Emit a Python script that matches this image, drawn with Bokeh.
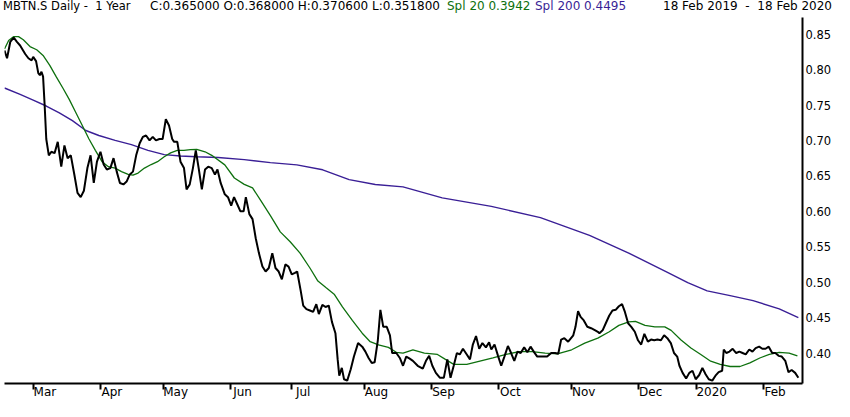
import pandas as pd
from bokeh.plotting import figure
from bokeh.models import Range1d, LinearAxis, FixedTicker, NumeralTickFormatter, Div
from bokeh.layouts import column
from bokeh.embed import file_html
from bokeh.resources import INLINE

# ---------------- data ----------------
holidays = ["2019-04-19", "2019-04-22", "2019-05-01", "2019-05-30", "2019-06-10",
            "2019-08-01", "2019-12-24", "2019-12-25", "2019-12-26", "2019-12-31",
            "2020-01-01", "2020-01-02"]
month_labels = ["Mar", "Apr", "May", "Jun", "Jul", "Aug", "Sep", "Oct", "Nov", "Dec", "2020", "Feb"]
y_ticks = [0.40, 0.45, 0.50, 0.55, 0.60, 0.65, 0.70, 0.75, 0.80, 0.85]

# trading-day index and closing price
price_day = [0.0, 0.8, 1.8, 2.9, 3.9, 4.9, 6.5, 7.5, 8.5, 9.0, 9.9, 10.6, 11.1, 11.6, 12.1, 12.6, 13.1, 13.9,
             14.7, 15.7, 16.7, 17.8, 18.8, 19.8, 20.8, 21.9, 22.9, 23.9, 24.9, 26.0, 27.0, 28.0, 29.0, 30.1,
             31.1, 32.1, 33.2, 34.2, 35.2, 36.2, 37.3, 38.3, 39.3, 40.3, 41.3, 42.4, 43.4, 44.4, 45.5, 46.5,
             47.5, 48.6, 49.6, 50.6, 51.6, 52.6, 53.2, 54.2, 55.2, 56.3, 57.1, 58.1, 59.1, 60.0, 60.9, 61.9,
             62.9, 63.9, 65.0,
             66.0, 66.8, 67.8, 69.1, 70.1, 71.1, 72.0, 73.0, 74.0, 75.0, 75.7, 76.8, 77.8, 78.8, 79.8, 80.9,
             81.9, 82.9, 84.0, 85.0, 86.0, 87.0, 88.1, 89.1, 90.1, 91.1, 91.8, 92.9, 93.7, 94.7, 95.8, 96.8,
             97.8, 98.6, 99.7, 100.7, 101.7, 102.7, 103.8, 104.5, 105.0, 105.8, 106.5, 107.5, 108.6, 109.6,
             110.9, 112.2, 113.2, 114.2, 115.2, 116.1, 117.1, 117.9, 118.8, 119.9, 120.9, 121.6,
             122.9, 124.0, 125.0, 126.0, 127.1, 128.1, 129.6, 131.2, 132.2, 133.2, 134.2, 135.3, 136.6, 137.8,
             138.9, 139.9, 140.9, 141.9, 142.8, 143.8, 145.0, 146.0, 146.9, 147.9, 148.9, 149.9, 151.0, 152.0,
             152.7, 153.7, 154.8, 155.8, 156.8, 157.9, 158.9, 159.9, 160.9, 161.9, 163.0, 164.0, 165.0, 166.0,
             167.1, 168.6, 170.2, 171.5, 172.7, 173.7, 174.6, 175.6, 176.8, 178.4, 179.1, 179.9, 180.7, 181.7,
             182.8, 184.0, 185.3, 186.1,
             186.6, 187.6, 188.6, 189.7, 190.7, 191.7, 192.7, 193.7, 194.6, 195.6, 196.6, 197.7, 198.7, 199.7,
             200.7, 201.8, 202.8, 203.8, 204.8, 205.9, 206.9, 207.9, 209.0, 210.0, 211.0, 211.7, 212.7, 213.8,
             214.8, 215.8, 216.8, 217.9, 218.9, 219.9, 220.9, 222.0, 223.0, 224.0, 225.1, 225.6, 226.4, 227.4,
             228.4, 229.5, 230.5, 231.5, 232.5, 233.6, 234.6, 235.6, 236.7, 237.7, 238.7, 239.7, 240.8, 241.8,
             242.8, 243.8, 244.9, 245.9, 246.9, 248.0, 249.0]
price_close = [0.827, 0.816, 0.839, 0.845, 0.839, 0.834, 0.822, 0.816, 0.813, 0.818, 0.812, 0.795, 0.792, 0.797,
               0.790, 0.749, 0.702, 0.679, 0.684, 0.682, 0.698, 0.663, 0.693, 0.675, 0.679, 0.652, 0.626, 0.620,
               0.629, 0.661, 0.679, 0.640, 0.670, 0.684, 0.666, 0.659, 0.661, 0.675, 0.656, 0.640, 0.638, 0.642,
               0.652, 0.656, 0.679, 0.696, 0.705, 0.707, 0.700, 0.705, 0.700, 0.702, 0.702, 0.730, 0.721, 0.702,
               0.698, 0.698, 0.670, 0.661, 0.631, 0.638, 0.661, 0.686, 0.661, 0.631, 0.659, 0.663, 0.661,
               0.652, 0.659, 0.640, 0.624, 0.620, 0.608, 0.620, 0.610, 0.600, 0.600, 0.620, 0.596, 0.589, 0.562,
               0.541, 0.522, 0.515, 0.520, 0.541, 0.520, 0.515, 0.504, 0.525, 0.522, 0.511, 0.513, 0.515, 0.488,
               0.467, 0.462, 0.460, 0.458, 0.469, 0.455, 0.468, 0.465, 0.467, 0.444, 0.428, 0.391, 0.368, 0.379,
               0.363, 0.361, 0.377, 0.395, 0.414, 0.409, 0.402, 0.393, 0.386, 0.387, 0.418, 0.461, 0.437, 0.437,
               0.425, 0.400,
               0.400, 0.393, 0.382, 0.395, 0.392, 0.389, 0.382, 0.378, 0.389, 0.396, 0.382, 0.372, 0.365, 0.365,
               0.391, 0.365, 0.382, 0.400, 0.398, 0.406, 0.398, 0.391, 0.412, 0.424, 0.406, 0.414, 0.408, 0.415,
               0.405, 0.412, 0.396, 0.382, 0.395, 0.410, 0.400, 0.389, 0.402, 0.400, 0.408, 0.401, 0.409, 0.402,
               0.395, 0.395, 0.395, 0.400, 0.400, 0.399, 0.419, 0.421, 0.416, 0.425, 0.437, 0.459, 0.451, 0.446,
               0.437, 0.435, 0.432, 0.430,
               0.428, 0.432, 0.442, 0.453, 0.460, 0.461, 0.466, 0.469, 0.458, 0.442, 0.437, 0.430, 0.418, 0.412,
               0.427, 0.416, 0.419, 0.418, 0.419, 0.418, 0.425, 0.421, 0.414, 0.400, 0.395, 0.382, 0.372, 0.364,
               0.372, 0.375, 0.363, 0.369, 0.379, 0.370, 0.363, 0.361, 0.368, 0.373, 0.375, 0.405, 0.400, 0.402,
               0.406, 0.400, 0.402, 0.400, 0.398, 0.405, 0.402, 0.407, 0.409, 0.406, 0.406, 0.409, 0.400, 0.400,
               0.396, 0.395, 0.389, 0.373, 0.376, 0.372, 0.365]

# 20-day simple moving average
sma20_day = [0.0, 1.3, 2.9, 4.4, 5.9, 8.0, 10.1, 12.1, 14.2, 16.2, 18.3, 20.3, 22.4, 24.4, 26.5, 28.5, 30.6,
             32.6, 34.7, 36.7, 38.8, 40.3, 41.9, 43.9, 46.0, 48.0, 50.1, 52.1, 54.2, 56.3, 58.3, 60.3, 62.9,
             65.0, 69.1, 72.1, 75.2, 77.8, 80.4, 83.4, 86.5, 89.6, 92.7, 95.8, 98.3, 100.9, 103.4, 106.0, 109.1,
             112.2, 114.7, 117.3, 120.4, 122.9, 125.0, 128.1, 131.7, 135.8, 138.3, 140.9, 145.0, 149.1, 153.2,
             157.3, 161.4, 165.5, 169.6, 173.7, 177.9, 182.0, 186.1, 189.7, 192.7, 195.8, 197.9, 200.9, 204.0,
             207.1, 209.1, 212.2, 215.3, 218.4, 221.5, 224.5, 227.6, 230.7, 233.8, 236.9, 239.9, 243.0, 246.1,
             248.7]
sma20_val = [0.829, 0.841, 0.8465, 0.8465, 0.842, 0.8325, 0.828, 0.820, 0.806, 0.790, 0.774, 0.758, 0.739,
             0.721, 0.702, 0.686, 0.670, 0.663, 0.661, 0.656, 0.652, 0.651, 0.654, 0.661, 0.666, 0.670, 0.677,
             0.6825, 0.686, 0.686, 0.687, 0.6875, 0.684, 0.679, 0.6655, 0.647, 0.638, 0.633, 0.615, 0.594, 0.571,
             0.557, 0.541, 0.520, 0.5015, 0.492, 0.483, 0.465, 0.446, 0.428, 0.416, 0.4115, 0.408, 0.401, 0.400,
             0.4046, 0.400, 0.398, 0.391, 0.384, 0.384, 0.3885, 0.393, 0.398, 0.402, 0.402, 0.400, 0.399, 0.4046,
             0.414, 0.421, 0.430, 0.439, 0.444, 0.4448, 0.439, 0.437, 0.437, 0.432, 0.4185, 0.407, 0.398, 0.3885,
             0.384, 0.381, 0.381, 0.386, 0.393, 0.398, 0.401, 0.400, 0.396]

# 200-day simple moving average
sma200_day = [0.0, 4.9, 9.0, 13.1, 17.2, 21.3, 25.5, 29.6, 34.7, 39.8, 45.0, 50.1, 55.2, 60.3, 67.0, 75.2, 83.4,
              91.7, 99.8, 108.1, 116.3, 125.0, 137.3, 152.7, 168.1, 183.5, 195.8, 208.1, 214.3, 220.4, 227.6,
              234.8, 243.0, 249.0]
sma200_val = [0.774, 0.765, 0.757, 0.7486, 0.739, 0.728, 0.714, 0.707, 0.700, 0.694, 0.686, 0.680, 0.678, 0.677,
              0.676, 0.673, 0.6687, 0.6655, 0.6586, 0.6447, 0.6378, 0.6345, 0.619, 0.607, 0.591, 0.566, 0.541,
              0.5136, 0.4993, 0.4877, 0.481, 0.474, 0.4623, 0.450]

title_left = "MBTN.S Daily -  1 Year"
title_ohlc = "C:0.365000 O:0.368000 H:0.370600 L:0.351800"
title_sma20 = "Spl 20 0.3942"
title_sma200 = "Spl 200 0.4495"
title_range = "18 Feb 2019  -  18 Feb 2020"

# trading calendar -> month start positions
dates = pd.bdate_range("2019-02-18", "2020-02-18", freq="C", holidays=holidays)
month_start_idx = [i for i in range(1, len(dates)) if dates[i].month != dates[i - 1].month]

# ---------------- styles ----------------
FONT = "DejaVu Sans"
GREEN = "#0e700e"
PURPLE = "#3a1f96"
W = 834
HEADER_H = 14
FIG_H = 401 - HEADER_H
LEFT, RIGHT, TOP = 4, 28, 3
X_END = 250.3
PX_PER_DAY = (W - LEFT - RIGHT) / X_END

p = figure(width=W, height=FIG_H, output_backend="svg", toolbar_location=None,
           x_range=Range1d(0, X_END), y_range=Range1d(0.357, 0.8735),
           x_axis_location=None, y_axis_location=None,
           min_border_left=LEFT, min_border_right=RIGHT, min_border_top=TOP, min_border_bottom=0)
p.background_fill_color = "white"
p.border_fill_color = "white"
p.outline_line_color = None
p.xgrid.visible = False
p.ygrid.visible = False

yaxis = LinearAxis(ticker=FixedTicker(ticks=y_ticks), formatter=NumeralTickFormatter(format="0.00"))
yaxis.axis_line_width = 2
yaxis.axis_line_color = "black"
yaxis.major_tick_out = 0
yaxis.major_tick_in = 0
yaxis.minor_tick_out = 0
yaxis.minor_tick_in = 0
yaxis.major_label_standoff = 3
yaxis.major_label_text_font = FONT
yaxis.major_label_text_font_size = "11.5px"
yaxis.major_label_text_color = "black"
p.add_layout(yaxis, "right")

# axis with the month tick marks
xaxis = LinearAxis(ticker=FixedTicker(ticks=month_start_idx))
xaxis.axis_line_width = 2
xaxis.axis_line_color = "black"
xaxis.major_tick_out = 6
xaxis.major_tick_in = 0
xaxis.major_tick_line_width = 2
xaxis.minor_tick_out = 0
xaxis.minor_tick_in = 0
xaxis.major_label_standoff = 0
xaxis.major_label_text_font_size = "0px"
xaxis.major_label_overrides = {i: "" for i in month_start_idx}
p.add_layout(xaxis, "below")

# axis carrying the month names, set just right of each tick
label_pos = [round(i + (0.5 * 7.2 * len(lab) + 1) / PX_PER_DAY, 2) for i, lab in zip(month_start_idx, month_labels)]
laxis = LinearAxis(ticker=FixedTicker(ticks=label_pos))
laxis.major_label_overrides = {pos: lab for pos, lab in zip(label_pos, month_labels)}
laxis.axis_line_color = None
laxis.major_tick_line_color = None
laxis.minor_tick_line_color = None
laxis.major_tick_out = 0
laxis.major_tick_in = 0
laxis.major_label_standoff = -5
laxis.major_label_text_font = FONT
laxis.major_label_text_font_size = "12px"
laxis.major_label_text_color = "black"
p.add_layout(laxis, "below")

p.line(sma200_day, sma200_val, line_color=PURPLE, line_width=1.4)
p.line(sma20_day, sma20_val, line_color=GREEN, line_width=1.3)
p.line(price_day, price_close, line_color="black", line_width=2)

span = ('<span style="position:absolute;top:0px;{pos};color:{col};font-family:DejaVu Sans;'
        'font-size:{fs};line-height:13px;white-space:pre;">{txt}</span>')
header_html = (
    '<div style="position:relative;width:%dpx;height:%dpx;">' % (W, HEADER_H)
    + span.format(pos="left:3px", col="black", fs="11.5px", txt=title_left)
    + span.format(pos="left:150px", col="black", fs="12px", txt=title_ohlc)
    + span.format(pos="left:447px", col=GREEN, fs="12px", txt=title_sma20)
    + span.format(pos="left:535px", col=PURPLE, fs="12px", txt=title_sma200)
    + span.format(pos="right:2px", col="black", fs="12px", txt=title_range)
    + '</div>'
)
header = Div(text=header_html, width=W, height=HEADER_H, margin=(0, 0, 0, 0),
             styles={"font-size": "12px", "font-family": "DejaVu Sans"})

layout = column(header, p, spacing=0)
open("out.html", "w").write(file_html(layout, INLINE))
